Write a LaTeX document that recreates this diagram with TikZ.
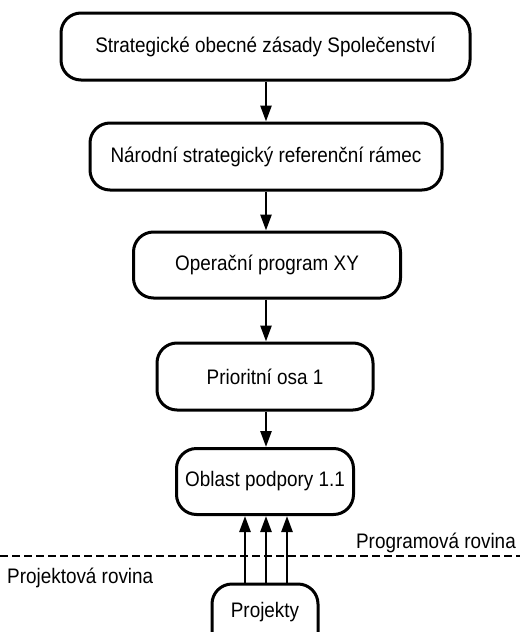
\documentclass[tikz,border=0pt]{standalone}
\usepackage{fontspec}
\setmainfont[FakeStretch=0.9]{Liberation Sans}
\usetikzlibrary{arrows.meta}
\begin{document}
\begin{tikzpicture}[x=1pt,y=-1pt,
  box/.style={draw, line width=3pt, rounded corners=20pt, inner sep=0pt, font=\fontsize{21}{24}\selectfont},
  conn/.style={line width=2.6pt, -{Triangle[length=16pt,width=11pt]}},
  lbl/.style={font=\fontsize{21}{24}\selectfont, inner sep=0pt}]
\useasboundingbox (0,0) rectangle (520,632);
\clip (0,0) rectangle (520,632);
\node[box, minimum width=409pt, minimum height=67pt] (b1) at (265.5,46.5) {Strategické obecné zásady Společenství};
\node[box, minimum width=352pt, minimum height=67pt] (b2) at (266,156.5) {Národní strategický referenční rámec};
\node[box, minimum width=267pt, minimum height=66pt] (b3) at (267,265) {Operační program XY};
\node[box, minimum width=216pt, minimum height=67pt] (b4) at (265,376.5) {Prioritní osa 1};
\node[box, minimum width=177pt, minimum height=66pt] (b5) at (265,481.5) {Oblast podpory 1.1};
\node[box, minimum width=106pt, minimum height=70pt] (p) at (265,619) {};
\node[lbl] (ptext) at (265,612) {Projekty};
\draw[conn] (b1.south -| 266,0) -- (b2.north -| 266,0);
\draw[conn] (b2.south -| 266,0) -- (b3.north -| 266,0);
\draw[conn] (b3.south -| 266,0) -- (b4.north -| 266,0);
\draw[conn] (b4.south -| 266,0) -- (b5.north -| 266,0);
\draw[conn] (p.north -| 245,0) -- (b5.south -| 245,0);
\draw[conn] (p.north -| 266,0) -- (b5.south -| 266,0);
\draw[conn] (p.north -| 287,0) -- (b5.south -| 287,0);
\coordinate (dl) at (0,556);
\coordinate (dr) at (520,556);
\draw[line width=1.8pt, dash pattern=on 8pt off 4pt] (dl) -- (dr);
\node[lbl, anchor=east] (prog) at (516,543) {Programová rovina};
\node[lbl, anchor=west] (proj) at (7,578) {Projektová rovina};
\end{tikzpicture}
\end{document}
